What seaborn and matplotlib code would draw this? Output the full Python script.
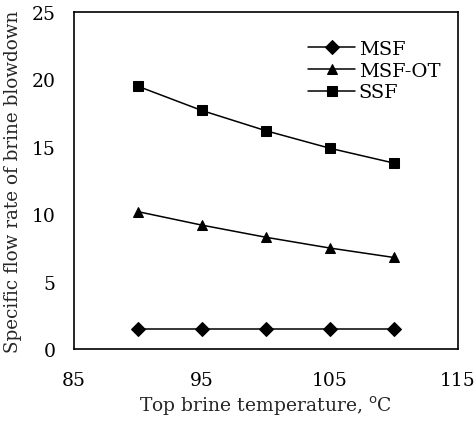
import matplotlib
matplotlib.use("Agg")
import matplotlib.pyplot as plt
import seaborn as sns
import pandas as pd

temperature = [90, 95, 100, 105, 110]
msf = [1.5, 1.5, 1.5, 1.5, 1.5]
msf_ot = [10.2, 9.2, 8.3, 7.5, 6.8]
ssf = [19.5, 17.7, 16.2, 14.9, 13.8]
series_names = ["MSF", "MSF-OT", "SSF"]

df = pd.concat([
    pd.DataFrame({"T": temperature, "rate": vals, "series": name})
    for name, vals in zip(series_names, [msf, msf_ot, ssf])
], ignore_index=True)

sns.set_theme(style="white")
plt.rcParams["font.family"] = ["DejaVu Serif"]

fig = plt.figure(figsize=(4.76, 4.35), dpi=100)
ax = fig.add_axes([0.155, 0.195, 0.807, 0.775])

sns.lineplot(data=df, x="T", y="rate", style="series", hue="series",
             palette=["black"] * 3, markers={"MSF": "D", "MSF-OT": "^", "SSF": "s"},
             dashes=False, markersize=7, linewidth=1.1, ax=ax,
             markeredgecolor="black")

ax.set_xlim(85, 115)
ax.set_ylim(0, 25)
ax.set_xticks([85, 95, 105, 115])
ax.set_yticks([0, 5, 10, 15, 20, 25])
ax.tick_params(length=0, labelsize=13.5, colors="black")
ax.tick_params(axis="x", pad=16)
ax.tick_params(axis="y", pad=13)
ax.set_xlabel("Top brine temperature, $^{\\mathrm{o}}$C", fontsize=13.5, labelpad=3)
ax.set_ylabel("Specific flow rate of brine blowdown", fontsize=13.2, labelpad=7)
for s in ax.spines.values():
    s.set_color("black")
    s.set_linewidth(1.2)

leg = ax.legend(loc="upper right", bbox_to_anchor=(1.0, 0.97), frameon=False,
                fontsize=14, handlelength=2.4, handletextpad=0.2, labelspacing=0.2)
for t in leg.get_texts():
    t.set_color("black")

fig.savefig("out.png", dpi=100)
